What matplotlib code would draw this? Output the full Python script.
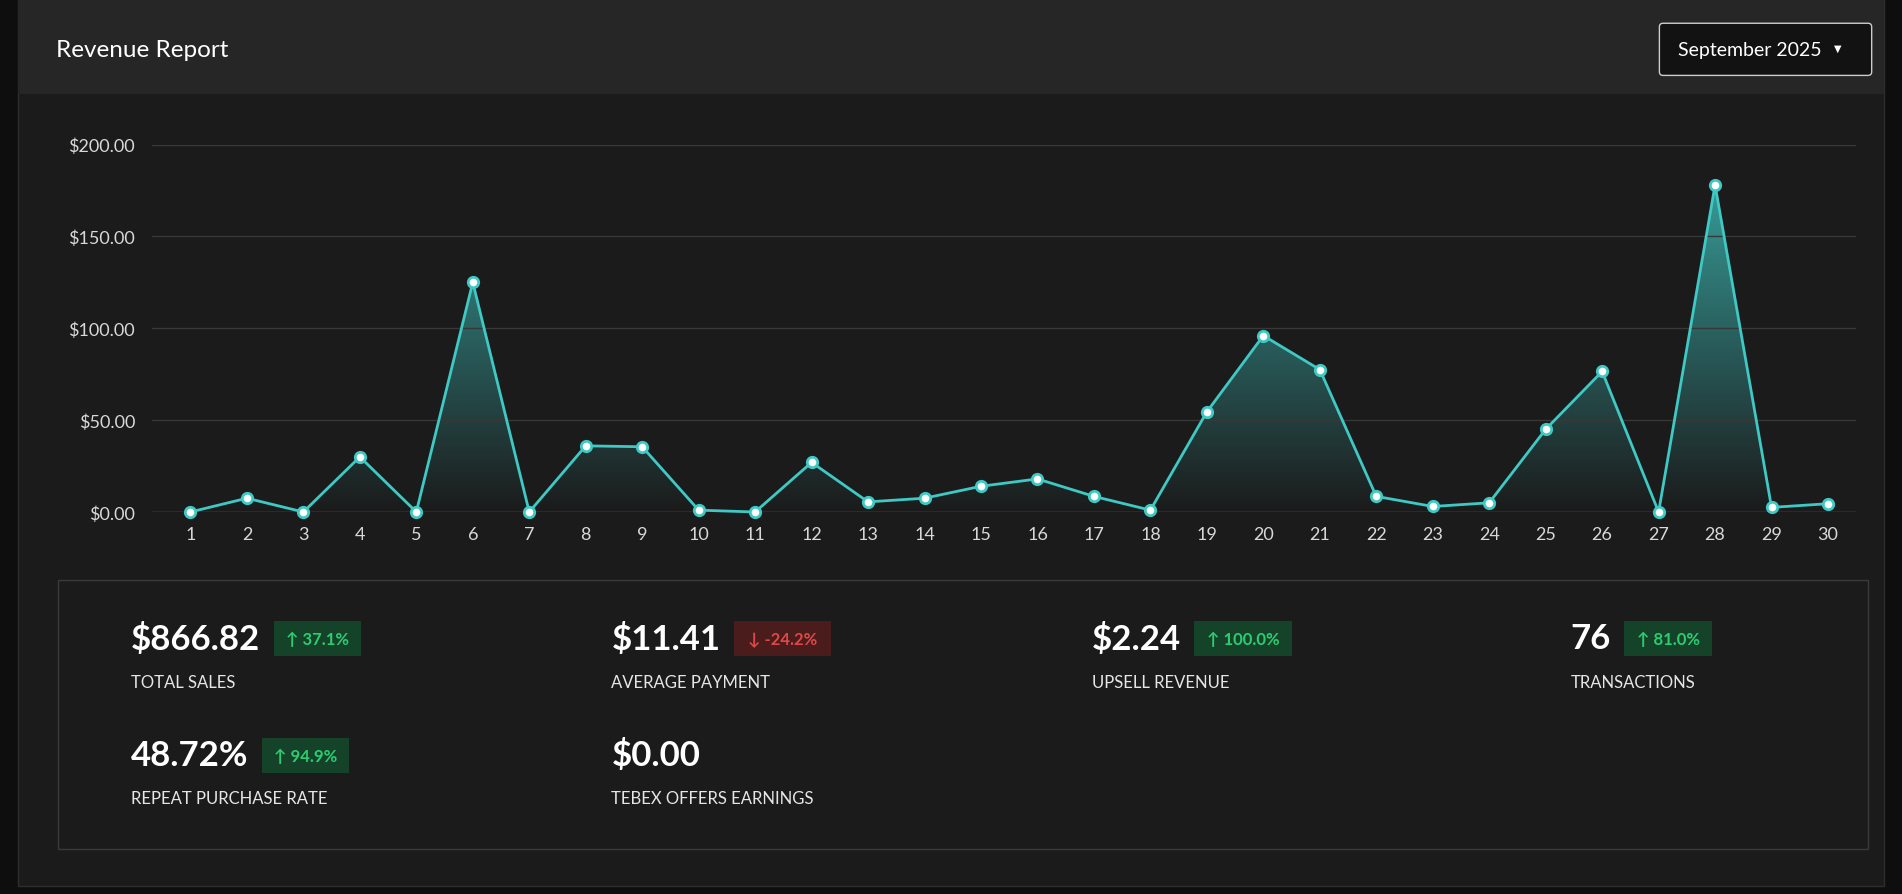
import numpy as np
import matplotlib
matplotlib.use("Agg")
import matplotlib.pyplot as plt
from matplotlib.patches import Rectangle, FancyBboxPatch

plt.rcParams['font.family'] = ['Lato', 'DejaVu Sans']

days = list(range(1, 31))
revenue = [0, 7.5, 0, 30, 0, 125, 0, 36, 35.5, 1, 0, 27, 5.5, 7.5, 14, 18, 8.5, 1,
           54.5, 96, 77.5, 8.5, 3, 5, 45, 76.5, 0, 178, 2.5, 4.5]
y_ticks = [0, 50, 100, 150, 200]
y_labels = ['$0.00', '$50.00', '$100.00', '$150.00', '$200.00']

stats = [('$866.82', 'TOTAL SALES', '↑ 37.1%', True),
         ('$11.41', 'AVERAGE PAYMENT', '↓ -24.2%', False),
         ('$2.24', 'UPSELL REVENUE', '↑ 100.0%', True),
         ('76', 'TRANSACTIONS', '↑ 81.0%', True),
         ('48.72%', 'REPEAT PURCHASE RATE', '↑ 94.9%', True),
         ('$0.00', 'TEBEX OFFERS EARNINGS', None, None)]

W, H = 1568, 738
fig = plt.figure(figsize=(19.02, 8.95), dpi=100)
fig.patch.set_facecolor('#0e0e0e')

bg = fig.add_axes([0, 0, 1, 1])
bg.set_xlim(0, W)
bg.set_ylim(H, 0)
bg.axis('off')
bg.add_patch(Rectangle((15, 0), 1538, 731, facecolor='#1b1b1b', edgecolor='#2e2e2e'))
bg.add_patch(Rectangle((15, 0), 1538, 78, facecolor='#262626', edgecolor='none'))
bg.text(46, 42, 'Revenue Report', color='white', fontsize=17.5, va='center')
bg.add_patch(FancyBboxPatch((1368, 20), 175, 43, boxstyle='round,pad=0,rounding_size=3',
                            facecolor='#121212', edgecolor='#cccccc', lw=1))
bg.text(1383, 42, 'September 2025', color='white', fontsize=14, va='center')
bg.text(1515, 41, '▼', color='white', fontsize=7, va='center', ha='center')
bg.add_patch(Rectangle((48, 479), 1492, 222, facecolor='#1b1b1b', edgecolor='#3a3a3a', lw=1))

pos = [(108, 527), (504, 527), (900, 527), (1295, 527), (108, 623), (504, 623)]
for (x, y), (val, lab, chg, up) in zip(pos, stats):
    t = bg.text(x, y, val, color='white', fontsize=25, fontweight='bold', va='center')
    bg.text(x, y + 36, lab, color='#e6e6e6', fontsize=12, va='center')
    if chg:
        fig.canvas.draw()
        bb = t.get_window_extent()
        x1 = bg.transData.inverted().transform((bb.x1, 0))[0] + 11
        w = 14 + 8.3 * len(chg)
        bg.add_patch(Rectangle((x1, y - 14), w, 29,
                               facecolor='#14432a' if up else '#4a1c1c', edgecolor='none'))
        bg.text(x1 + w / 2, y + 1, chg, color='#2ecc71' if up else '#e04848',
                fontsize=12, ha='center', va='center', fontweight='bold')

ax = fig.add_axes([125 / W, 1 - 423 / H, 1405 / W, 303 / H])
ax.set_facecolor('none')
ax.set_xlim(1 - 32 / 46.55, 30 + 23 / 46.55)
ax.set_ylim(0, 200)
for s in ax.spines.values():
    s.set_visible(False)
ax.set_yticks(y_ticks)
ax.set_yticklabels(y_labels)
ax.set_xticks(days)
ax.tick_params(colors='#d8d8d8', labelsize=13, length=0, pad=12)
ax.tick_params(axis='x', pad=10)
ax.grid(axis='y', color='#383838', lw=1)
ax.axhline(0, color='#555555', lw=1)

x = np.array(days)
y = np.array(revenue)
poly = ax.fill_between(x, y, 0, color='none')
grad = np.linspace(0, 1, 256).reshape(-1, 1)
cmap = matplotlib.colors.LinearSegmentedColormap.from_list(
    'g', [(0.25, 0.78, 0.76, 0.0), (0.25, 0.78, 0.76, 0.75)])
im = ax.imshow(grad, extent=[x[0], x[-1], 0, 178], origin='lower', aspect='auto',
               cmap=cmap, zorder=1)
im.set_clip_path(poly.get_paths()[0], transform=ax.transData)
ax.plot(x, y, color='#3ec9c4', lw=2, zorder=3, clip_on=False)
ax.plot(x, y, 'o', ms=7.5, mfc='white', mec='#3ec9c4', mew=2, zorder=4, clip_on=False)

fig.savefig('out.png', dpi=100, facecolor=fig.get_facecolor())
